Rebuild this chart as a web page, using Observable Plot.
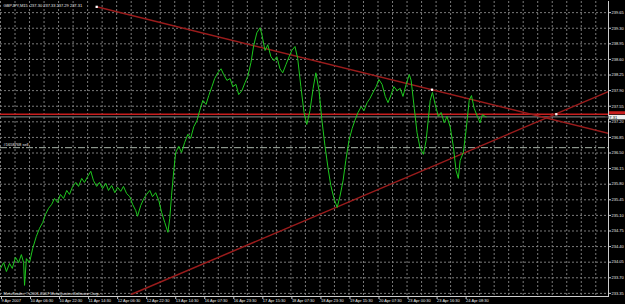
<!DOCTYPE html>
<html><head><meta charset="utf-8">
<script src="https://cdn.jsdelivr.net/npm/d3@7"></script>
<script src="https://cdn.jsdelivr.net/npm/@observablehq/plot@0.6"></script>
<style>
html,body{margin:0;padding:0;background:#000;}
#chart{width:625px;height:304px;overflow:hidden;}
</style></head><body><div id="chart"></div>
<script>
const title = "GBPJPY,M15  237.30 237.33 237.29 237.31";
const copyright = "MetaTrader, © 2001-2007 MetaQuotes Software Corp.";
const timeLabels = ["9 Apr 2007","10 Apr 06:30","10 Apr 22:30","11 Apr 14:30","12 Apr 06:30","12 Apr 22:30","13 Apr 14:30","16 Apr 07:30","16 Apr 23:30","17 Apr 15:30","18 Apr 07:30","18 Apr 23:30","19 Apr 15:30","20 Apr 07:30","23 Apr 00:30","23 Apr 16:30","24 Apr 08:30"];
const timeBars = [0,64,128,192,256,320,384,448,512,576,640,704,768,832,896,960,1024];
const priceTicks = [239.65,239.30,238.95,238.60,238.25,237.90,237.55,237.20,236.85,236.50,236.15,235.80,235.45,235.10,234.75,234.40,234.05,233.70,233.35];
const bars = [0,7,13,20,26,33,40,46,51,53,57,64,71,79,86,93,99,106,113,119,126,132,139,146,152,159,166,172,179,185,192,199,205,212,218,225,232,238,245,252,258,265,271,278,285,291,298,302,309,316,322,329,335,342,349,355,362,369,373,377,382,386,393,399,406,413,419,426,433,439,446,453,459,466,472,479,486,492,499,506,512,519,525,532,539,545,552,558,565,572,576,583,589,596,603,609,616,622,629,636,642,649,655,662,669,675,682,689,695,702,708,715,722,728,735,742,748,755,761,768,775,781,788,795,801,808,814,821,828,834,841,848,854,861,867,874,881,887,894,901,905,912,918,925,932,938,943,947,952,958,965,971,978,984,991,998,1004,1009,1013,1020,1026,1033,1038,1044,1051,1057,1062,1070];
const prices = [233.91,234.04,233.84,234.02,233.91,234.16,234.04,234.22,234.04,233.53,234.13,234.04,234.36,234.63,234.81,234.94,235.12,235.26,235.35,235.48,235.39,235.57,235.48,235.66,235.57,235.75,235.84,235.75,235.93,235.84,235.97,236.09,235.88,235.75,235.84,235.70,235.82,235.66,235.77,235.61,235.73,235.64,235.75,235.59,235.52,235.35,235.21,235.08,235.32,235.48,235.57,235.66,235.52,235.61,235.43,235.17,234.94,234.72,235.03,235.55,236.11,236.51,236.65,236.51,236.74,236.92,236.83,237.09,237.23,237.45,237.68,237.59,237.79,237.99,238.17,238.30,238.39,238.26,238.13,238.17,237.99,238.04,237.81,237.90,238.08,238.22,238.53,238.91,239.20,239.31,239.16,238.80,238.93,238.66,238.57,238.66,238.39,238.30,238.48,238.66,238.80,238.89,238.62,237.99,237.41,237.14,237.45,237.95,238.30,237.90,237.27,236.67,236.15,235.77,235.48,235.28,235.52,235.88,236.33,236.78,237.05,237.23,237.41,237.54,237.45,237.63,237.72,237.86,237.99,238.15,238.04,237.77,237.63,237.81,237.99,237.90,237.95,237.77,238.04,238.26,238.13,237.50,236.96,236.60,236.47,236.78,237.27,237.68,237.86,237.59,237.32,237.41,237.18,237.32,237.09,236.65,236.11,235.93,236.33,236.51,237.00,237.68,237.79,237.50,237.32,237.18,237.36,237.31];
const downBars = [212, 951];
const downPrices = [239.78, 237.92];
const upBars = [289, 1278];
const upPrices = [233.33, 237.61];
const hlinePrice = 237.37;
const bidPrice = 237.31;
const orderPrice = 236.62;
const orderLabel = "#1658768 sell";
const markerBars = [212, 951, 1225];
const markerPrices = [239.78, 237.92, 237.37];

const xMax = 1340;
const series = bars.map((b, i) => ({bar: b, price: prices[i]}));
function ray(bs, ps) {
  const slope = (ps[1] - ps[0]) / (bs[1] - bs[0]);
  return [{bar: bs[0], price: ps[0]}, {bar: xMax, price: ps[0] + slope * (xMax - bs[0])}];
}
const markers = markerBars.map((b, i) => ({bar: b, price: markerPrices[i]}));
const gridBars = d3.range(0, xMax + 1, 32);
const labelMap = new Map(timeBars.map((b, i) => [b, timeLabels[i]]));
const font = "Liberation Sans, Arial, sans-serif";

const chart = Plot.plot({
  width: 625, height: 304,
  marginLeft: 0, marginRight: 17, marginTop: 1, marginBottom: 8,
  style: {background: "#000", fontFamily: font},
  x: {type: "linear", domain: [0, xMax], axis: null},
  y: {domain: [233.28, 239.90], axis: null},
  marks: [
    Plot.ruleY(priceTicks, {stroke: "#7a7a7a", strokeDasharray: "2,2"}),
    Plot.ruleX(gridBars, {stroke: "#7a7a7a", strokeDasharray: "2,2"}),
    Plot.ruleY([orderPrice], {stroke: "#a8b4a8", strokeDasharray: "7,2,2,2"}),
    Plot.ruleY([hlinePrice], {stroke: "#c81e1e", strokeWidth: 1.3}),
    Plot.ruleY([bidPrice], {stroke: "#8c8c8c"}),
    Plot.line(ray(downBars, downPrices), {x: "bar", y: "price", stroke: "#9a1c1c", clip: true}),
    Plot.line(ray(upBars, upPrices), {x: "bar", y: "price", stroke: "#9a1c1c", clip: true}),
    Plot.line(series, {x: "bar", y: "price", stroke: "#1ec81e", strokeWidth: 1}),
    Plot.dot(markers, {x: "bar", y: "price", symbol: "square", r: 1.3, fill: "#fff"}),
    Plot.text([orderLabel], {x: 0, y: orderPrice, dx: 3, dy: -3, textAnchor: "start", fill: "#e8e8e8", fontSize: 4}),
    Plot.text([title], {frameAnchor: "top-left", dx: 3, dy: 3, fill: "#e8e8e8", fontSize: 4}),
    Plot.text([copyright], {frameAnchor: "bottom-left", dx: 3, dy: -2, fill: "#e8e8e8", fontSize: 4}),
    Plot.axisX(timeBars, {anchor: "bottom", label: null, tickSize: 3, tickPadding: 0, tickFormat: d => labelMap.get(d), textAnchor: "start", dx: 1, fill: "#e8e8e8", stroke: "#ccc", fontSize: 4}),
    Plot.axisY(priceTicks, {anchor: "right", label: null, tickSize: 2, tickPadding: 1, tickFormat: d => d.toFixed(2), fill: "#e8e8e8", stroke: "#ccc", fontSize: 4}),
    Plot.frame({anchor: "right", stroke: "#ccc"}),
    Plot.frame({anchor: "bottom", stroke: "#ccc"})
  ]
});

const sx = chart.scale("x"), sy = chart.scale("y");
const svg = d3.select(chart);
const bx = sx.apply(xMax) + 1;
const hy = sy.apply(hlinePrice), by = sy.apply(bidPrice);
svg.append("rect").attr("x", bx).attr("y", hy - 2.5).attr("width", 16).attr("height", 3).attr("fill", "#c81e1e");
svg.append("rect").attr("x", bx).attr("y", by - 1.5).attr("width", 16).attr("height", 4.5).attr("fill", "#eee");
svg.append("text").attr("x", bx + 2).attr("y", by + 2.3).attr("font-size", 4).attr("font-family", font).attr("fill", "#000").text(bidPrice.toFixed(2));
document.getElementById("chart").appendChild(chart);
</script></body></html>
